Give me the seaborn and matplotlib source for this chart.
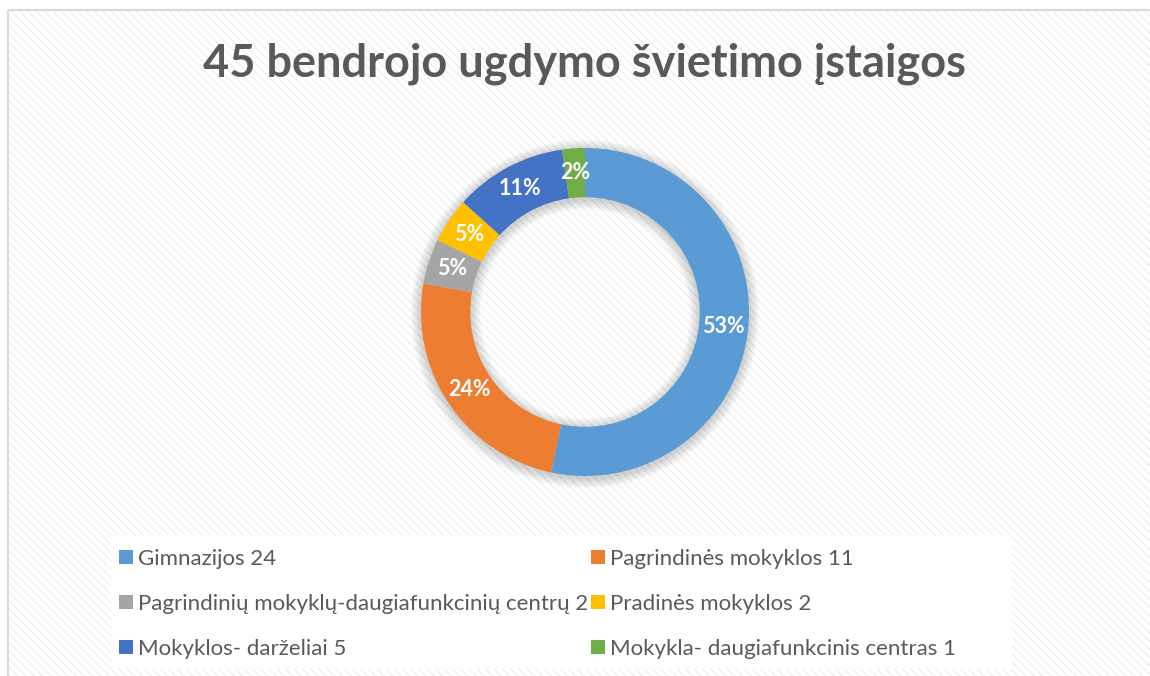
import matplotlib
matplotlib.use("Agg")
import matplotlib.pyplot as plt
import seaborn as sns
from matplotlib.patches import Rectangle, Patch, Wedge

# ---- data ----
categories = [
    "Gimnazijos 24",
    "Pagrindinės mokyklos 11",
    "Pagrindinių mokyklų-daugiafunkcinių centrų 2",
    "Pradinės mokyklos 2",
    "Mokyklos- darželiai 5",
    "Mokykla- daugiafunkcinis centras 1",
]
counts = [24, 11, 2, 2, 5, 1]
pct_labels = ["53%", "24%", "5%", "5%", "11%", "2%"]
colors = ["#5B9BD5", "#ED7D31", "#A5A5A5", "#FFC000", "#4472C4", "#70AD47"]
title = "45 bendrojo ugdymo švietimo įstaigos"

W, H = 1150, 676
sns.set_theme(style="white")
plt.rcParams["font.family"] = ["Lato", "DejaVu Sans"]
plt.rcParams["hatch.color"] = "#efefef"
plt.rcParams["hatch.linewidth"] = 1.0

fig = plt.figure(figsize=(W / 100, H / 100), dpi=100)
fig.patch.set_facecolor("white")


def fx(x):
    return x / W


def fy(y):
    return 1 - y / H


# background with diagonal hatch and light border
bg = fig.add_axes([0, 0, 1, 1])
bg.set_xlim(0, W)
bg.set_ylim(H, 0)
bg.axis("off")
bg.add_patch(Rectangle((8, 10), W, H, facecolor="white", edgecolor="#efefef",
                       hatch="\\\\\\\\", linewidth=0))
bg.add_patch(Rectangle((8, 10), W, H, facecolor="none", edgecolor="#d9d9d9",
                       linewidth=1.5))
# legend background
bg.add_patch(Rectangle((111, 535), 901, 134, facecolor="white", edgecolor="none"))

# donut axes
cx, cy, R = 585, 312, 164
half = 200
ax = fig.add_axes([fx(cx - half), fy(cy + half), 2 * half / W, 2 * half / H])
ax.axis("off")

# soft shadow
for k in range(1, 10):
    d = k * 0.007
    ax.add_patch(Wedge((0.0, -0.012), 1 + d, 0, 360, width=0.30 + 2 * d,
                       facecolor="black", alpha=0.02, linewidth=0, zorder=0))

it = iter(pct_labels)
wedges, texts, autotexts = ax.pie(
    counts,
    colors=colors,
    startangle=90,
    counterclock=False,
    radius=1,
    wedgeprops=dict(width=0.30, linewidth=0),
    autopct=lambda p: next(it),
    pctdistance=0.85,
    textprops=dict(color="white", fontsize=15.5, fontweight="bold"),
)
ax.set_xlim(-half / R, half / R)
ax.set_ylim(-half / R, half / R)

# title
fig.text(fx(585), fy(64), title, ha="center", va="center", fontsize=32.5,
         fontweight="bold", color="#595959")

# legend in two columns
handles = [Patch(facecolor=c, edgecolor="none") for c in colors]
fs = 16
common = dict(loc="upper left", frameon=False, fontsize=fs, labelcolor="#595959",
              handlelength=10 / fs, handleheight=10 / fs, handletextpad=3.6 / fs,
              labelspacing=1.12, borderpad=0, borderaxespad=0)
leg1 = fig.legend([handles[i] for i in (0, 2, 4)], [categories[i] for i in (0, 2, 4)],
                  bbox_to_anchor=(fx(119), fy(549)), **common)
leg2 = fig.legend([handles[i] for i in (1, 3, 5)], [categories[i] for i in (1, 3, 5)],
                  bbox_to_anchor=(fx(591), fy(549)), **common)

fig.savefig("out.png", dpi=100)
